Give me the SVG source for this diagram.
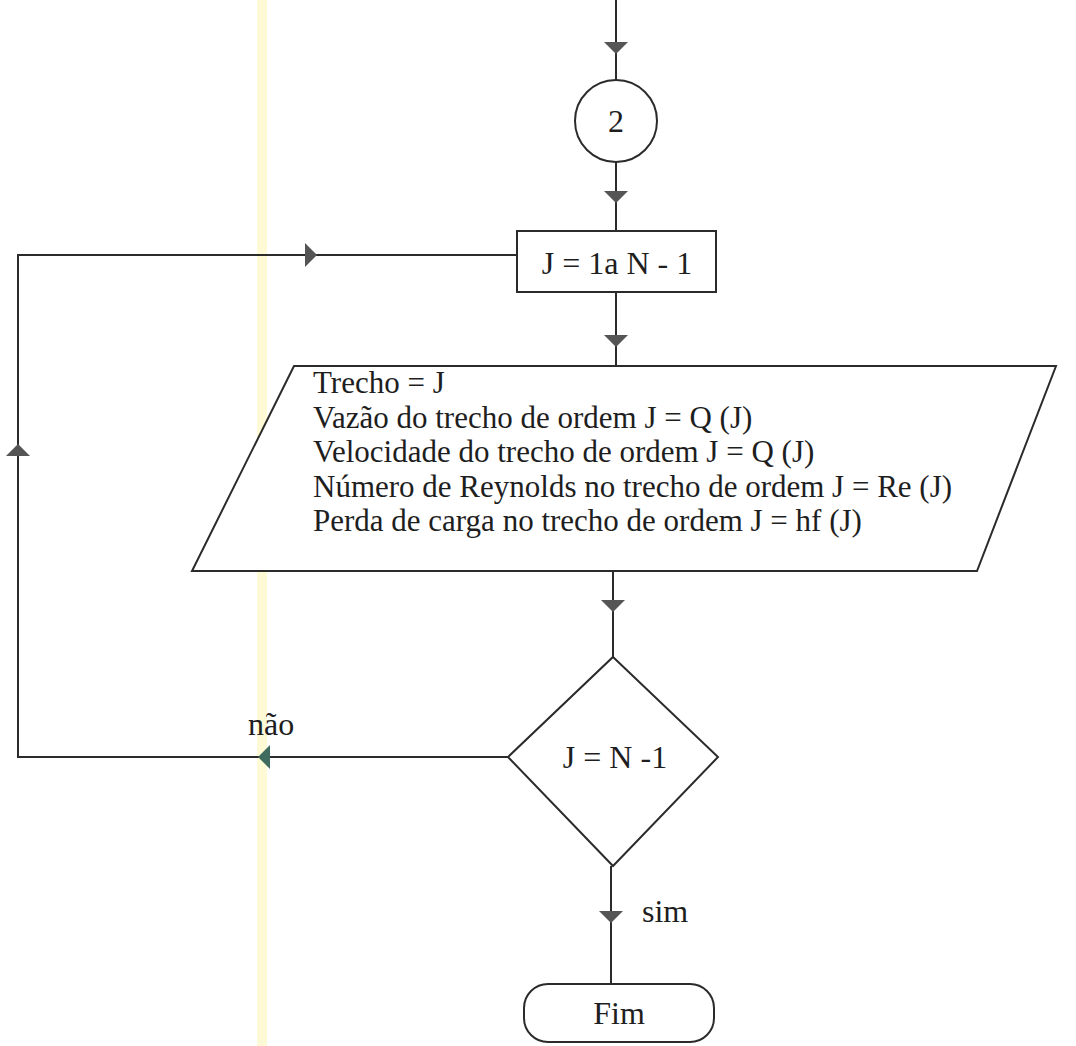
<svg xmlns="http://www.w3.org/2000/svg" xmlns:xlink="http://www.w3.org/1999/xlink" width="1076" height="1046" viewBox="0 0 1076 1046">
<style>
.ln{fill:none;stroke:#2b2b2b;stroke-width:2}
.sh{fill:#ffffff;stroke:#2b2b2b;stroke-width:2}
.tx{font-family:"Liberation Serif","Times New Roman",serif;font-size:32px;fill:#1e1e1e}
.sm{font-size:31px}
.ar{fill:#555555}
</style>
<defs>
<path id="arrowDown" d="M-12,-6 L12,-6 L0,6 Z"/>
</defs>
<rect x="257" y="0" width="10" height="1046" fill="#fff8c4" opacity="0.7"/>
<g id="connectors">
<path class="ln" d="M616,0 V80"/>
<path class="ln" d="M616,162 V231"/>
<path class="ln" d="M616,292 V366"/>
<path class="ln" d="M613,571 V657"/>
<path class="ln" d="M611,866 V984"/>
<path class="ln" d="M508,757 H18 V255 H517"/>
<use href="#arrowDown" class="ar" transform="translate(616,48)"/>
<use href="#arrowDown" class="ar" transform="translate(616,197)"/>
<use href="#arrowDown" class="ar" transform="translate(616,341)"/>
<use href="#arrowDown" class="ar" transform="translate(613,606)"/>
<use href="#arrowDown" class="ar" transform="translate(611,917)"/>
<use href="#arrowDown" class="ar" transform="translate(18,450) rotate(180)"/>
<use href="#arrowDown" class="ar" transform="translate(311,255) rotate(-90)"/>
<use href="#arrowDown" fill="#3f6b5e" transform="translate(264,757) rotate(90)"/>
<text class="tx" x="248" y="735">não</text>
<text class="tx" x="642" y="922">sim</text>
</g>
<g id="connector2">
<circle class="sh" cx="616" cy="121" r="41"/>
<text class="tx" x="616" y="132" text-anchor="middle">2</text>
</g>
<g id="loop">
<rect class="sh" x="517" y="231" width="199" height="61"/>
<text class="tx" x="617" y="274" text-anchor="middle">J = 1a N - 1</text>
</g>
<g id="output">
<polygon class="sh" points="294,366 1056,366 977,571 192,571"/>
<text class="tx sm" x="313" y="393">Trecho = J</text>
<text class="tx sm" x="313" y="428">Vazão do trecho de ordem J = Q (J)</text>
<text class="tx sm" x="313" y="462">Velocidade do trecho de ordem J = Q (J)</text>
<text class="tx sm" x="313" y="497">Número de Reynolds no trecho de ordem J = Re (J)</text>
<text class="tx sm" x="313" y="531">Perda de carga no trecho de ordem J = hf (J)</text>
</g>
<g id="decision">
<polygon class="sh" points="613,657 718,757 613,866 508,757"/>
<text class="tx" x="615" y="768" text-anchor="middle">J = N -1</text>
</g>
<g id="end">
<rect class="sh" x="524" y="984" width="190" height="58" rx="24" ry="24"/>
<text class="tx" x="619" y="1024" text-anchor="middle">Fim</text>
</g>
</svg>
